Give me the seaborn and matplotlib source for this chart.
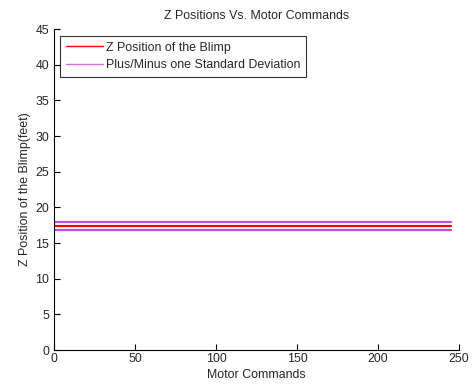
import numpy as np
import pandas as pd
import seaborn as sns
import matplotlib.pyplot as plt

# Data
motor_commands = [0, 245]
z_position = [17.35, 17.35]
z_plus_std = [17.9, 17.9]
z_minus_std = [16.8, 16.8]

df = pd.DataFrame({
    'motor': motor_commands * 3,
    'z': z_position + z_plus_std + z_minus_std,
    'series': ['Z Position of the Blimp'] * 2
              + ['Plus/Minus one Standard Deviation'] * 2
              + ['minus'] * 2,
})

sns.set_style('white')
plt.rcParams['font.family'] = ['Liberation Sans', 'DejaVu Sans']
fs = 8.9

fig = plt.figure(figsize=(4.75, 3.87), dpi=100)
ax = fig.add_axes([0.1137, 0.0956, 0.8526, 0.8294])

palette = {'Z Position of the Blimp': '#ff0000',
           'Plus/Minus one Standard Deviation': '#c050d8',
           'minus': '#c050d8'}
sns.lineplot(data=df, x='motor', y='z', hue='series', palette=palette,
             linewidth=1.6, ax=ax, legend=False)

ax.set_xlim(0, 250)
ax.set_ylim(0, 45)
ax.set_xticks([0, 50, 100, 150, 200, 250])
ax.set_yticks(range(0, 46, 5))
ax.tick_params(direction='in', length=4, labelsize=fs, color='black',
               left=True, bottom=True)
ax.tick_params(axis='x', pad=2)
for s in ['top', 'right']:
    ax.spines[s].set_visible(False)
for s in ['left', 'bottom']:
    ax.spines[s].set_color('black')
    ax.spines[s].set_linewidth(0.8)

ax.set_xlabel('Motor Commands', fontsize=fs, labelpad=3)
ax.set_ylabel('Z Position of the Blimp(feet)', fontsize=fs, labelpad=3)
ax.set_title('Z Positions Vs. Motor Commands', fontsize=fs, pad=7)

ax.plot([], [], color='#ff0000', lw=1.0, label='Z Position of the Blimp')
ax.plot([], [], color='#e070e8', lw=1.0, label='Plus/Minus one Standard Deviation')
leg = ax.legend(loc='upper left', fontsize=fs, frameon=True, fancybox=False,
                edgecolor='black', borderpad=0.45, labelspacing=0.45,
                handlelength=3.0, handletextpad=0.25, borderaxespad=0,
                bbox_to_anchor=(0.015, 0.978))
leg.get_frame().set_linewidth(0.8)

fig.savefig('out.png', dpi=100)
